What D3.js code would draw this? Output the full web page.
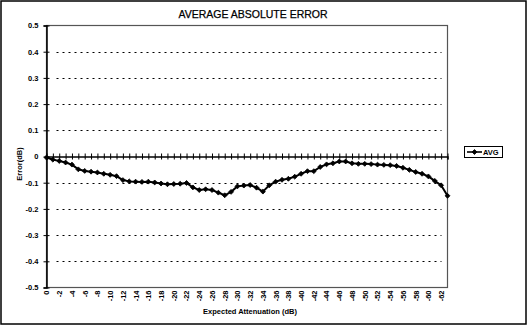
<!DOCTYPE html>
<html>
<head>
<meta charset="utf-8">
<script src="https://cdn.jsdelivr.net/npm/d3@7"></script>
<style>
  html, body { margin: 0; padding: 0; background: #fff; }
  svg { display: block; font-family: "Liberation Sans", Arial, sans-serif; }
</style>
</head>
<body>
<svg id="chart" width="528" height="326"></svg>
<script>
// Expected attenuation steps (dB)
const categories = [0,-1,-2,-3,-4,-5,-6,-7,-8,-9,-10,-11,-12,-13,-14,-15,-16,-17,-18,-19,
  -20,-21,-22,-23,-24,-25,-26,-27,-28,-29,-30,-31,-32,-33,-34,-35,-36,-37,-38,-39,
  -40,-41,-42,-43,-44,-45,-46,-47,-48,-49,-50,-51,-52,-53,-54,-55,-56,-57,-58,-59,
  -60,-61,-62,-63];

// Average error (dB) at each step
const avgError = [-0.004,-0.012,-0.017,-0.023,-0.031,-0.049,-0.055,-0.058,-0.061,-0.066,
  -0.070,-0.075,-0.090,-0.095,-0.096,-0.097,-0.096,-0.099,-0.103,-0.106,
  -0.105,-0.104,-0.101,-0.118,-0.128,-0.125,-0.128,-0.138,-0.148,-0.135,
  -0.114,-0.111,-0.109,-0.119,-0.134,-0.110,-0.096,-0.089,-0.085,-0.077,
  -0.066,-0.056,-0.056,-0.040,-0.030,-0.026,-0.019,-0.019,-0.026,-0.028,
  -0.028,-0.029,-0.031,-0.032,-0.033,-0.036,-0.043,-0.051,-0.059,-0.066,
  -0.076,-0.093,-0.110,-0.150];

// Labelled categories along the bottom
const xTickLabels = [0,-2,-4,-6,-8,-10,-12,-14,-16,-18,-20,-22,-24,-26,-28,-30,
  -32,-34,-36,-38,-40,-42,-44,-46,-48,-50,-52,-54,-56,-58,-60,-62];

// Value axis ticks
const yTicks = [-0.5,-0.4,-0.3,-0.2,-0.1,0,0.1,0.2,0.3,0.4,0.5];
const yTickLabels = ["-0.5","-0.4","-0.3","-0.2","-0.1","0","0.1","0.2","0.3","0.4","0.5"];

const seriesName = "AVG";

const svg = d3.select("#chart");
const W = 528, H = 326;
const plot = { left: 46.5, right: 447.5, top: 25.5, bottom: 287.5 };

const x = d3.scalePoint().domain(categories).range([plot.left, plot.right]).padding(0);
const y = d3.scaleLinear().domain([-0.5, 0.5]).range([plot.bottom, plot.top]);

// Outer frame
svg.append("rect")
  .attr("x", 1).attr("y", 1).attr("width", W - 3).attr("height", H - 3)
  .attr("fill", "#fff").attr("stroke", "#000").attr("stroke-width", 1.5);

// Title
svg.append("text")
  .attr("x", 253).attr("y", 18)
  .attr("text-anchor", "middle")
  .attr("font-size", 10.5)
  .attr("fill", "#000")
  .attr("stroke", "#000").attr("stroke-width", 0.25)
  .text("AVERAGE ABSOLUTE ERROR");

// Plot area border
svg.append("rect")
  .attr("x", plot.left).attr("y", plot.top)
  .attr("width", plot.right - plot.left).attr("height", plot.bottom - plot.top)
  .attr("fill", "none").attr("stroke", "#555").attr("stroke-width", 1.2);

// Dashed gridlines
const gridVals = yTicks.filter(v => Math.abs(v) < 0.45 && v !== 0);
svg.append("g").selectAll("line").data(gridVals).join("line")
  .attr("x1", plot.left + 10).attr("x2", plot.right - 6)
  .attr("y1", d => Math.round(y(d)) + 0.5).attr("y2", d => Math.round(y(d)) + 0.5)
  .attr("stroke", "#000").attr("stroke-width", 1)
  .attr("stroke-dasharray", "2,4");

// Value axis with crossing ticks
const yAxis = d3.axisLeft(y)
  .tickValues(yTicks)
  .tickSize(3)
  .tickPadding(5)
  .tickFormat((d, i) => yTickLabels[i]);
const gy = svg.append("g").attr("transform", `translate(${plot.left},0)`).call(yAxis);
gy.select(".domain").attr("stroke", "#000").attr("stroke-width", 1.5);
gy.selectAll(".tick line").attr("x1", 3).attr("stroke", "#000");
gy.selectAll(".tick text")
  .attr("font-size", 7.5).attr("font-weight", "bold")
  .attr("font-family", "'Liberation Sans', Arial, sans-serif")
  .attr("fill", "#000");

// Category axis along zero, ticks at every step
const xAxisZero = d3.axisBottom(x).tickValues(categories).tickSize(3).tickFormat("");
const gx0 = svg.append("g").attr("transform", `translate(0,${y(0)})`).call(xAxisZero);
gx0.select(".domain").attr("stroke", "#000").attr("stroke-width", 1.3);
gx0.selectAll(".tick line").attr("y1", -3).attr("stroke", "#000");

// Category labels at the bottom, rotated
const xAxisLabels = d3.axisBottom(x).tickValues(xTickLabels).tickSize(0).tickPadding(0)
  .tickFormat(d => String(d));
const gxl = svg.append("g").attr("transform", `translate(0,${plot.bottom})`).call(xAxisLabels);
gxl.select(".domain").remove();
gxl.selectAll(".tick text")
  .attr("font-size", 7.5).attr("font-weight", "bold")
  .attr("font-family", "'Liberation Sans', Arial, sans-serif")
  .attr("fill", "#000")
  .attr("text-anchor", "end")
  .attr("dy", "0.32em")
  .attr("transform", "translate(0,3) rotate(-90)");

// Axis titles
svg.append("text")
  .attr("x", 250).attr("y", 314)
  .attr("text-anchor", "middle")
  .attr("font-size", 7.5).attr("font-weight", "bold")
  .text("Expected Attenuation (dB)");
svg.append("text")
  .attr("transform", "translate(22,164) rotate(-90)")
  .attr("text-anchor", "middle")
  .attr("font-size", 7.5).attr("font-weight", "bold")
  .text("Error(dB)");

// Series line
const line = d3.line()
  .x((d, i) => x(categories[i]))
  .y(d => y(d));
svg.append("path")
  .datum(avgError)
  .attr("d", line)
  .attr("fill", "none").attr("stroke", "#000").attr("stroke-width", 2)
  .attr("stroke-linejoin", "round");

// Diamond markers
const diamond = d3.symbol().type(d3.symbolSquare).size(12);
svg.append("g").selectAll("path").data(avgError).join("path")
  .attr("d", diamond)
  .attr("transform", (d, i) => `translate(${x(categories[i])},${y(d)}) rotate(45)`)
  .attr("fill", "#000").attr("stroke", "#000").attr("stroke-width", 0.8);

// Legend
const lg = svg.append("g").attr("transform", "translate(464,146)");
lg.append("rect").attr("x", 0.5).attr("y", 0.5).attr("width", 38).attr("height", 11)
  .attr("fill", "#fff").attr("stroke", "#000").attr("stroke-width", 1);
lg.append("line").attr("x1", 3).attr("x2", 18).attr("y1", 6).attr("y2", 6)
  .attr("stroke", "#000").attr("stroke-width", 1.6);
lg.append("path").attr("d", diamond)
  .attr("transform", "translate(10.5,6) rotate(45)")
  .attr("fill", "#000").attr("stroke", "#000").attr("stroke-width", 0.8);
lg.append("text").attr("x", 19).attr("y", 8.8)
  .attr("font-size", 7.5).attr("font-weight", "bold")
  .text(seriesName);
</script>
</body>
</html>
